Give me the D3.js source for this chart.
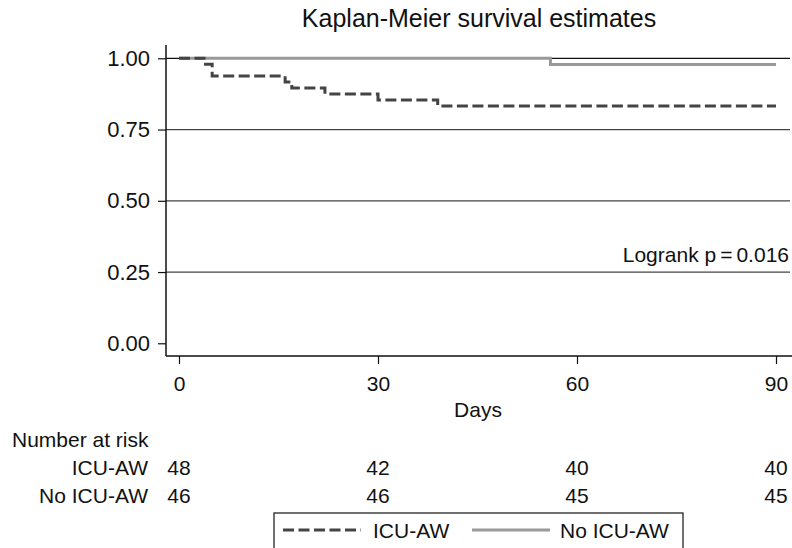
<!DOCTYPE html>
<html><head><meta charset="utf-8">
<script src="https://cdn.jsdelivr.net/npm/d3@7"></script>
<style>body{margin:0;background:#fff}svg{display:block}text{font-family:"Liberation Sans",Arial,Helvetica,sans-serif;fill:#111}</style>
</head><body>
<script>
const title = "Kaplan-Meier survival estimates";
const xTicks = [0, 30, 60, 90];
const yTicks = [0, 0.25, 0.5, 0.75, 1];
const gridTicks = [0.25, 0.5, 0.75, 1];
const icuTimes = [0, 4, 5, 16, 17, 22, 30, 39, 90];
const icuSurv = [1, 0.979, 0.9375, 0.917, 0.896, 0.875, 0.854, 0.833, 0.833];
const noTimes = [0, 56, 90];
const noSurv = [1, 0.978, 0.978];
const groups = ["ICU-AW", "No ICU-AW"];
const riskTimes = [0, 30, 60, 90];
const icuRisk = [48, 42, 40, 40];
const noRisk = [46, 46, 45, 45];
const pParts = ["Logrank p", "=", "0.016"];

(function () {
const W = 792, H = 548;
const svg = d3.select("body").append("svg").attr("width", W).attr("height", H);
const x = d3.scaleLinear().domain([0, 90]).range([179, 776]);
const y = d3.scaleLinear().domain([0, 1]).range([343.3, 58.3]);
const pl = 166, pr = 790, pt = 45, pb = 356;

// title
svg.append("text").attr("x", 479).attr("y", 27).attr("text-anchor", "middle")
  .style("font-size", "25px").text(title);

// gridlines
svg.append("g").selectAll("line").data(gridTicks).join("line")
  .attr("x1", pl).attr("x2", pr).attr("y1", d => y(d)).attr("y2", d => y(d))
  .attr("stroke", d => d === 1 ? "#111" : "#444").attr("stroke-width", 1.3);

// y axis
const ya = svg.append("g").attr("transform", `translate(${pl},0)`)
  .call(d3.axisLeft(y).tickValues(yTicks).tickFormat(d3.format(".2f")).tickSize(8).tickPadding(8));
ya.select(".domain").remove();
ya.selectAll("line").attr("stroke", "#111").attr("stroke-width", 1.2);
ya.selectAll("text").style("font-size", "22px").attr("fill", "#111");
svg.append("line").attr("x1", pl).attr("x2", pl).attr("y1", pt).attr("y2", pb)
  .attr("stroke", "#111").attr("stroke-width", 1.5);

// x axis
const xa = svg.append("g").attr("transform", `translate(0,${pb})`)
  .call(d3.axisBottom(x).tickValues(xTicks).tickSize(8).tickPadding(12));
xa.select(".domain").remove();
xa.selectAll("line").attr("stroke", "#111").attr("stroke-width", 1.2);
xa.selectAll("text").style("font-size", "21px").attr("fill", "#111");
svg.append("line").attr("x1", pl).attr("x2", W).attr("y1", pb).attr("y2", pb)
  .attr("stroke", "#111").attr("stroke-width", 1.5);

svg.append("text").attr("x", 478).attr("y", 417).attr("text-anchor", "middle")
  .style("font-size", "21px").text("Days");

// curves
const line = d3.line().x(d => x(d[0])).y(d => y(d[1])).curve(d3.curveStepAfter);
svg.append("path").datum(noTimes.map((t, i) => [t, noSurv[i]]))
  .attr("d", line).attr("fill", "none").attr("stroke", "#999").attr("stroke-width", 3);
svg.append("path").datum(icuTimes.map((t, i) => [t, icuSurv[i]]))
  .attr("d", line).attr("fill", "none").attr("stroke", "#444").attr("stroke-width", 3)
  .attr("stroke-dasharray", "11,4.5");

const pt2 = svg.append("text").attr("x", 789).attr("y", 262).attr("text-anchor", "end")
  .style("font-size", "21px");
pt2.append("tspan").text(pParts[0]);
pt2.append("tspan").attr("dx", 4).text(pParts[1]);
pt2.append("tspan").attr("dx", 4).text(pParts[2]);

// number at risk
svg.append("text").attr("x", 12).attr("y", 447).style("font-size", "21px").text("Number at risk");
const rows = [icuRisk, noRisk];
const rowY = [475, 503];
rows.forEach((r, k) => {
  svg.append("text").attr("x", 148).attr("y", rowY[k]).attr("text-anchor", "end")
    .style("font-size", "21px").text(groups[k]);
  svg.append("g").selectAll("text").data(r).join("text")
    .attr("x", (d, i) => x(riskTimes[i])).attr("y", rowY[k]).attr("text-anchor", "middle")
    .style("font-size", "21px").text(d => d);
});

// legend
const lg = svg.append("g");
lg.append("rect").attr("x", 274).attr("y", 513).attr("width", 409).attr("height", 60)
  .attr("fill", "none").attr("stroke", "#111").attr("stroke-width", 1.2);
lg.append("line").attr("x1", 283).attr("x2", 361).attr("y1", 530).attr("y2", 530)
  .attr("stroke", "#444").attr("stroke-width", 3).attr("stroke-dasharray", "11,4.5");
lg.append("text").attr("x", 373).attr("y", 538).style("font-size", "21px").text(groups[0]);
lg.append("line").attr("x1", 472).attr("x2", 550).attr("y1", 530).attr("y2", 530)
  .attr("stroke", "#999").attr("stroke-width", 3);
lg.append("text").attr("x", 560).attr("y", 538).style("font-size", "21px").text(groups[1]);
})();
</script>
</body></html>
